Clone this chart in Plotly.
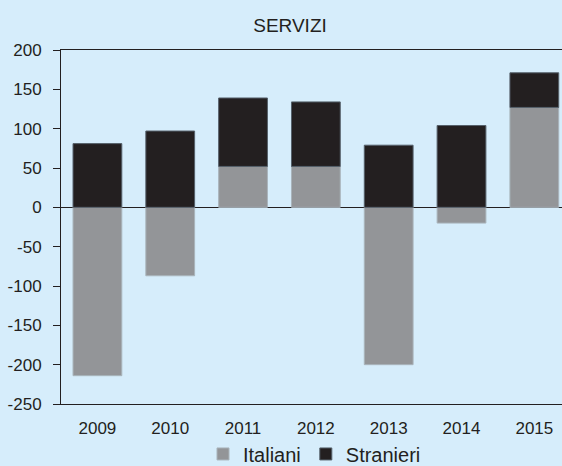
import plotly.graph_objects as go

years = ["2009", "2010", "2011", "2012", "2013", "2014", "2015"]
italiani = [-214, -87, 52, 52, -200, -20, 127]
stranieri = [81, 97, 87, 82, 79, 104, 44]
y_ticks = [200, 150, 100, 50, 0, -50, -100, -150, -200, -250]
y_tick_labels = ["200", "150", "100", "50", "0", "-50", "-100", "-150", "-200", "-250"]

bg = "#d6edfb"
dark = "#231f20"
gray = "#939598"

fig = go.Figure()
fig.add_trace(go.Bar(x=years, y=italiani, name="Italiani",
                     marker=dict(color=gray, line=dict(color="#a9b4bb", width=1)),
                     width=0.67))
fig.add_trace(go.Bar(x=years, y=stranieri, name="Stranieri",
                     marker=dict(color=dark, line=dict(color="#55606a", width=1)),
                     width=0.67))

fig.update_layout(
    width=562, height=466,
    barmode="relative",
    paper_bgcolor=bg, plot_bgcolor=bg,
    margin=dict(l=61, r=0, t=50, b=62, autoexpand=False),
    font=dict(family="Liberation Sans, Arial, sans-serif", color=dark, size=17),
    title=dict(text="SERVIZI", x=0.516, xanchor="center", y=0.946, yanchor="middle",
               font=dict(size=19, color=dark)),
    showlegend=True,
    legend=dict(orientation="h", x=(203 - 61) / 501, xanchor="left", y=-0.086, yanchor="top",
                font=dict(size=20, color=dark), itemwidth=30,
                bgcolor="rgba(0,0,0,0)", traceorder="normal"),
    xaxis=dict(type="category", range=[-0.5, 6.38], showline=True, linecolor=dark,
               linewidth=1, mirror=True, ticks="", showgrid=False, automargin=False,
               ticklabelstandoff=9, tickfont=dict(size=17)),
    yaxis=dict(range=[-250, 200], tickvals=y_ticks, ticktext=y_tick_labels,
               showline=True, linecolor=dark, automargin=False,
               linewidth=1, ticks="outside", ticklen=7, tickcolor=dark, showgrid=False,
               zeroline=True, zerolinecolor=dark, zerolinewidth=1,
               ticklabelstandoff=8, tickfont=dict(size=17)),
)

fig.write_html("out.html", config={"displayModeBar": False},
               post_script="document.body.style.margin='0';")
